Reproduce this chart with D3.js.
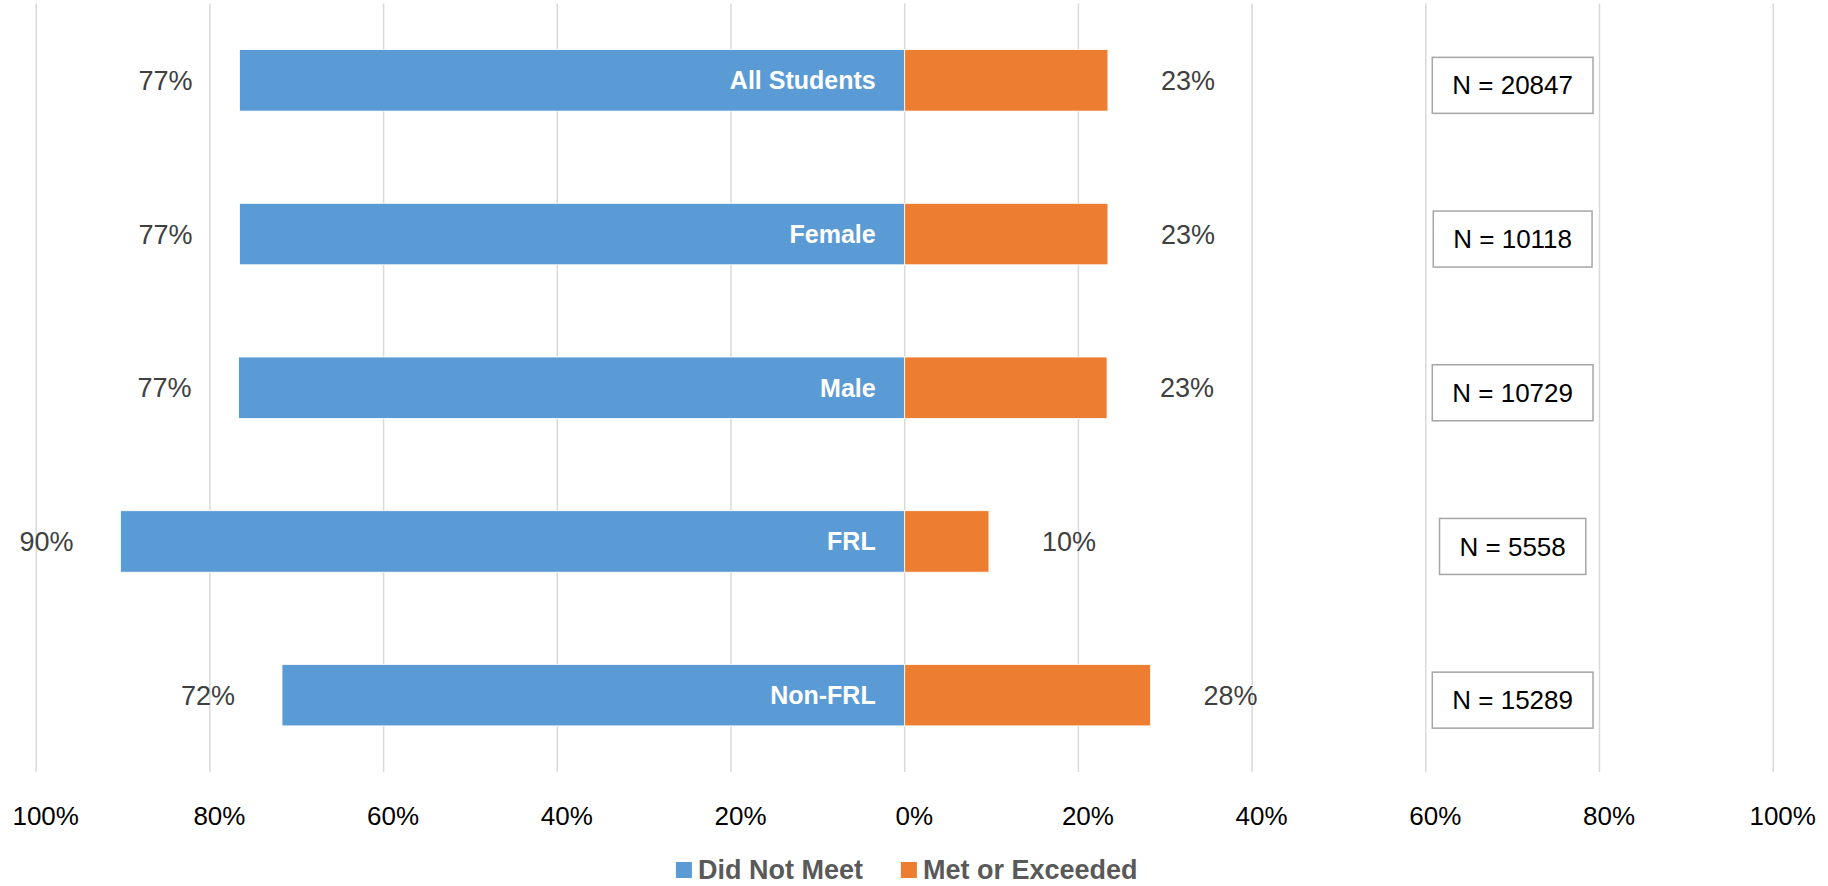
<!DOCTYPE html>
<html>
<head>
<meta charset="utf-8">
<script src="https://cdn.jsdelivr.net/npm/d3@7"></script>
<style>
  html, body { margin: 0; padding: 0; background: #fff; }
  svg { display: block; font-family: "Liberation Sans", Arial, sans-serif; }
</style>
</head>
<body>
<svg id="chart" width="1828" height="886"></svg>
<script>
const categories = ["All Students", "Female", "Male", "FRL", "Non-FRL"];
const didNotMeet = [76.6, 76.6, 76.7, 90.3, 71.7];
const metOrExceeded = [23.4, 23.4, 23.3, 9.7, 28.3];
const sampleSizes = [20847, 10118, 10729, 5558, 15289];
const tickValues = [-100, -80, -60, -40, -20, 0, 20, 40, 60, 80, 100];
const seriesNames = ["Did Not Meet", "Met or Exceeded"];
const seriesColors = ["#5B9BD5", "#ED7D31"];

const svg = d3.select("#chart");
const W = 1828, H = 886;
const plot = { left: 36.2, right: 1773.2, top: 3.5, bottom: 772 };

const x = d3.scaleLinear().domain([-100, 100]).range([plot.left, plot.right]);
const y = d3.scaleBand().domain(categories).range([plot.top, plot.bottom])
  .paddingInner(0.6).paddingOuter(0.3);

// gridlines
svg.append("g").selectAll("line").data(tickValues).join("line")
  .attr("x1", d => x(d)).attr("x2", d => x(d))
  .attr("y1", plot.top).attr("y2", plot.bottom)
  .attr("stroke", "#d9d9d9").attr("stroke-width", 1.5);

// axis labels
const axis = d3.axisBottom(x).tickValues(tickValues)
  .tickFormat(d => d3.format(".0%")(Math.abs(d) / 100)).tickSize(0).tickPadding(0);
const axG = svg.append("g").attr("transform", `translate(9,${plot.bottom + 44})`).call(axis);
axG.select(".domain").remove();
axG.selectAll("text").attr("font-size", 26).attr("fill", "#000")
  .attr("font-family", "Liberation Sans, Arial, sans-serif")
  .attr("dy", "0.35em").attr("y", 0);

const rows = categories.map((c, i) => ({ c, neg: didNotMeet[i], pos: metOrExceeded[i], n: sampleSizes[i] }));

// bars
svg.append("g").selectAll("rect").data(rows).join("rect")
  .attr("x", d => x(-d.neg)).attr("width", d => x(0) - x(-d.neg))
  .attr("y", d => y(d.c)).attr("height", y.bandwidth())
  .attr("fill", seriesColors[0]).attr("stroke", "#fff").attr("stroke-width", 0.8);
svg.append("g").selectAll("rect").data(rows).join("rect")
  .attr("x", x(0)).attr("width", d => x(d.pos) - x(0))
  .attr("y", d => y(d.c)).attr("height", y.bandwidth())
  .attr("fill", seriesColors[1]).attr("stroke", "#fff").attr("stroke-width", 0.8);

const pct = v => d3.format(".0%")(v / 100);
const cy = d => y(d.c) + y.bandwidth() / 2;

// data labels
svg.append("g").selectAll("text").data(rows).join("text")
  .attr("x", d => x(-d.neg) - 47).attr("y", cy).attr("dy", "0.35em")
  .attr("text-anchor", "end").attr("font-size", 27).attr("fill", "#404040")
  .text(d => pct(d.neg));
svg.append("g").selectAll("text").data(rows).join("text")
  .attr("x", d => x(d.pos) + 53).attr("y", cy).attr("dy", "0.35em")
  .attr("text-anchor", "start").attr("font-size", 27).attr("fill", "#404040")
  .text(d => pct(d.pos));

// category labels inside blue bars
svg.append("g").selectAll("text").data(rows).join("text")
  .attr("x", x(0) - 29).attr("y", cy).attr("dy", "0.35em")
  .attr("text-anchor", "end").attr("font-size", 25).attr("font-weight", "bold")
  .attr("fill", "#fff").text(d => d.c);

// N boxes
const boxG = svg.append("g").selectAll("g").data(rows).join("g")
  .attr("transform", d => `translate(${x(70)},${cy(d) + 5})`);
boxG.each(function(d) {
  const g = d3.select(this);
  const t = g.append("text").attr("text-anchor", "middle").attr("dy", "0.35em")
    .attr("font-size", 26).attr("fill", "#000").text(`N = ${d.n}`);
  const w = t.node().getComputedTextLength() + 40;
  g.insert("rect", "text").attr("x", -w / 2).attr("y", -28).attr("width", w).attr("height", 56)
    .attr("fill", "#fff").attr("stroke", "#a6a6a6").attr("stroke-width", 1.5);
});

// legend
const leg = svg.append("g");
const items = seriesNames.map((name, i) => {
  const g = leg.append("g");
  g.append("rect").attr("width", 16).attr("height", 16).attr("y", -8).attr("fill", seriesColors[i]);
  const t = g.append("text").attr("x", 22).attr("dy", "0.35em").attr("font-size", 27)
    .attr("font-weight", "bold").attr("fill", "#595959").text(name);
  return { g, w: 22 + t.node().getComputedTextLength() };
});
const gap = 38;
const total = d3.sum(items, d => d.w) + gap * (items.length - 1);
let lx = x(0) + 2 - total / 2;
items.forEach(it => { it.g.attr("transform", `translate(${lx},${plot.bottom + 98})`); lx += it.w + gap; });
</script>
</body>
</html>
